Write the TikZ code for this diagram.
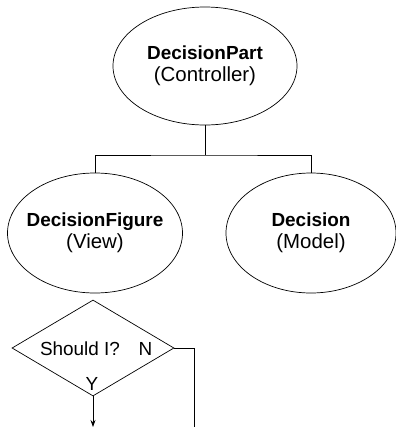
\documentclass[tikz,border=0pt]{standalone}
\usepackage{fontspec}
\setmainfont{Liberation Sans}
\usepackage{tikz}
\usetikzlibrary{shapes.geometric,arrows.meta,positioning}

\newcommand{\mvcrole}[2]{{\fontsize{19}{22}\selectfont\textbf{#1}}\\{\fontsize{20.5}{22}\selectfont(#2)}}

\begin{document}
\begin{tikzpicture}[x=1bp, y=-1bp, >={Stealth[length=7bp,width=5bp]}, line width=0.7bp,
  font=\fontsize{19}{22}\selectfont]
\useasboundingbox (0,0) rectangle (396,427);
\node[draw, ellipse, inner sep=0pt, minimum width=184bp, minimum height=118bp] (part) at (205,66) {};
\node[align=center] (parttext) at (part.center) {\mvcrole{DecisionPart}{Controller}};
\node[draw, ellipse, inner sep=0pt, minimum width=175bp, minimum height=120bp] (figure) at (95,233) {};
\node[align=center] (figuretext) at (figure.center) {\mvcrole{DecisionFigure}{View}};
\node[draw, ellipse, inner sep=0pt, minimum width=170bp, minimum height=120bp] (model) at (311,233) {};
\node[align=center] (modeltext) at (model.center) {\mvcrole{Decision}{Model}};
\coordinate (fork) at (205,155);
\draw (part.south) -- (fork);
\draw (figure.north) |- (fork) -| (model.north);
\node[draw, diamond, inner sep=0pt, minimum width=162bp, minimum height=96bp] (ask) at (93,348) {};
\node[anchor=base] (asktext) at (80,355) {Should I?};
\node[anchor=base] (no) at (145.5,355) {N};
\node[anchor=base] (yes) at (92,390) {Y};
\coordinate (next) at (93,427);
\coordinate (exit) at (194,427);
\draw[->] (ask.south) -- (next);
\draw (ask.east) -| (exit);
\end{tikzpicture}
\end{document}
